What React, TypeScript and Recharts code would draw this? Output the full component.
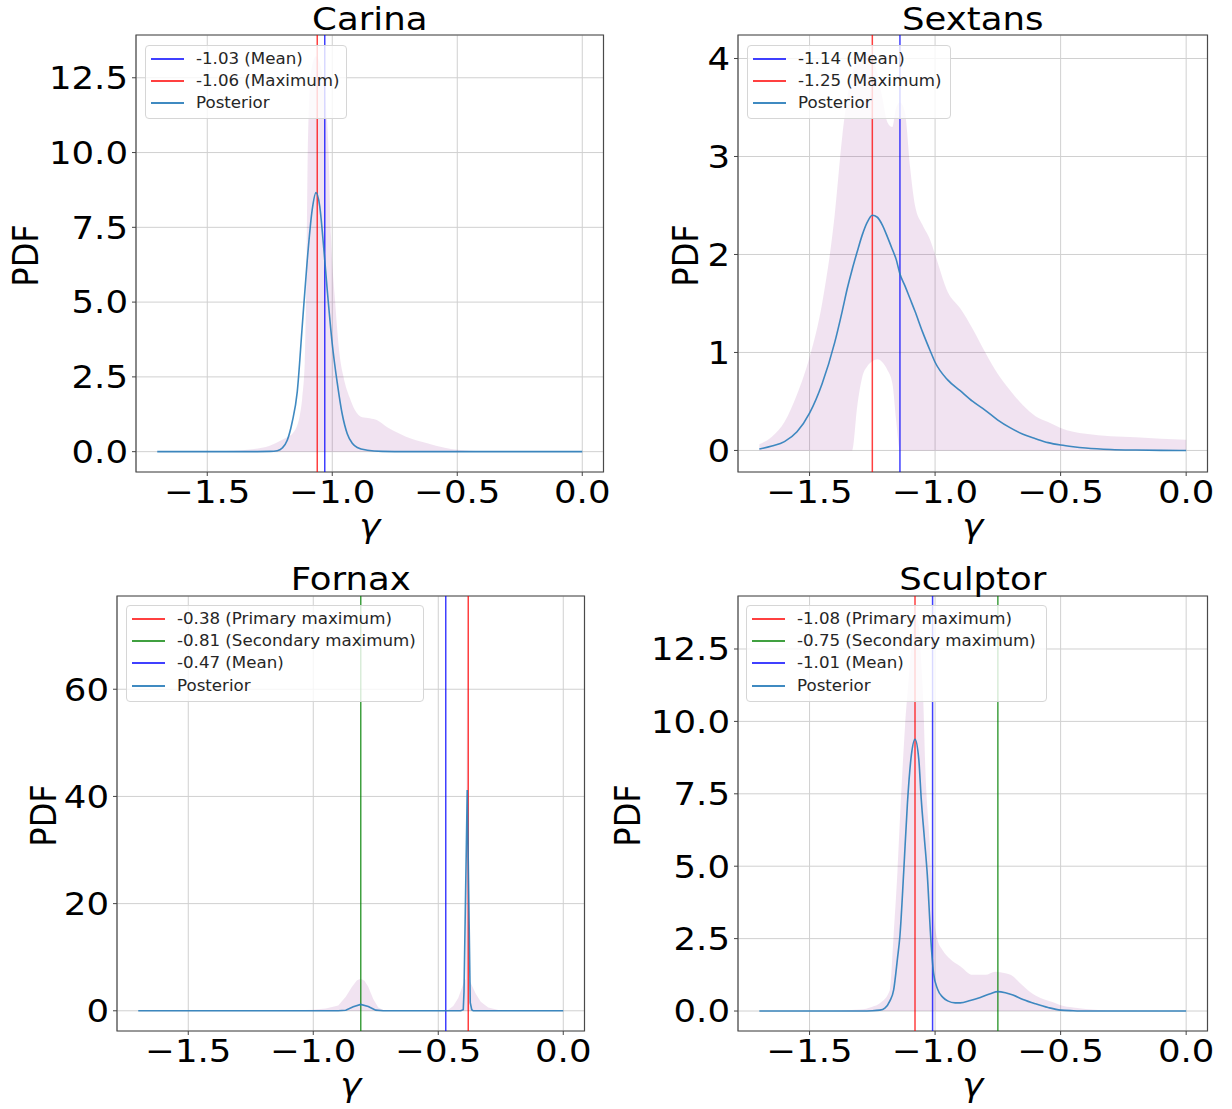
import React from 'react';
import {
  ComposedChart,
  Line,
  Area,
  XAxis,
  YAxis,
  CartesianGrid,
  ReferenceLine,
  ReferenceArea,
} from 'recharts';

const FONT = "'DejaVu Sans', 'Liberation Sans', sans-serif";
const SX = 1.11; // horizontal stretch of the reference figure
const X_DOMAIN = [-1.785, 0.085];
const X_TICKS = [-1.5, -1.0, -0.5, 0.0];

const BLUE = '#0000ff';
const RED = '#ff0000';
const GREEN = '#008000';
const POST = '#2a7dba';

// ---------------- Carina ----------------
const carinaPostX = [-1.7, -1.4, -1.3, -1.25, -1.22, -1.2, -1.18, -1.16, -1.14, -1.12, -1.1, -1.08, -1.065, -1.05, -1.035, -1.02, -1.0, -0.98, -0.96, -0.94, -0.92, -0.9, -0.86, -0.8, -0.7, -0.4, 0.0];
const carinaPostY = [0, 0, 0.002, 0.008, 0.03, 0.12, 0.38, 1.0, 2.0, 4.2, 6.4, 8.1, 8.66, 8.2, 6.9, 5.4, 3.6, 2.3, 1.25, 0.6, 0.28, 0.14, 0.05, 0.01, 0, 0, 0];
const carinaBandX = [-1.7, -1.5, -1.4, -1.32, -1.25, -1.2, -1.155, -1.13, -1.12, -1.11, -1.103, -1.097, -1.085, -1.065, -1.05, -1.03, -1.015, -1.005, -0.99, -0.97, -0.955, -0.93, -0.91, -0.88, -0.85, -0.82, -0.78, -0.73, -0.68, -0.62, -0.55, -0.5, -0.4, 0.0];
const carinaBandLo = carinaBandX.map(() => 0);
const carinaBandHi = [0, 0.01, 0.03, 0.08, 0.2, 0.4, 0.65, 1.2, 1.8, 3.0, 6.0, 10.5, 12.7, 13.22, 13.0, 12.0, 10.1, 7.2, 5.2, 3.2, 2.5, 1.8, 1.4, 1.15, 1.12, 1.05, 0.82, 0.6, 0.42, 0.28, 0.13, 0.06, 0.01, 0];
const carinaYTicks = [0, 2.5, 5, 7.5, 10, 12.5];
const carinaLegend = [
  { label: '-1.03 (Mean)', value: -1.03, color: BLUE },
  { label: '-1.06 (Maximum)', value: -1.06, color: RED },
];

// ---------------- Sextans ----------------
const sextansX = [-1.7, -1.65, -1.6, -1.55, -1.5, -1.45, -1.4, -1.37, -1.35, -1.33, -1.31, -1.29, -1.27, -1.25, -1.23, -1.21, -1.19, -1.17, -1.155, -1.14, -1.12, -1.1, -1.08, -1.05, -1.02, -1.0, -0.95, -0.9, -0.85, -0.8, -0.75, -0.7, -0.65, -0.6, -0.55, -0.5, -0.45, -0.4, -0.3, -0.2, -0.1, 0.0];
const sextansPostY = [0.014, 0.045, 0.09, 0.19, 0.38, 0.68, 1.1, 1.42, 1.65, 1.85, 2.03, 2.2, 2.33, 2.4, 2.38, 2.3, 2.18, 2.05, 1.95, 1.8, 1.68, 1.55, 1.42, 1.21, 1.02, 0.9, 0.72, 0.61, 0.5, 0.41, 0.31, 0.23, 0.165, 0.12, 0.08, 0.055, 0.038, 0.025, 0.01, 0.004, 0.001, 0];
const sextansBandLo = [0, 0, 0, 0, 0, 0, 0, 0, 0, 0, 0.45, 0.75, 0.86, 0.91, 0.93, 0.9, 0.82, 0.68, 0.3, 0, 0, 0, 0, 0, 0, 0, 0, 0, 0, 0, 0, 0, 0, 0, 0, 0, 0, 0, 0, 0, 0, 0];
const sextansBandHi = [0.064, 0.14, 0.29, 0.57, 0.95, 1.5, 2.4, 3.2, 3.6, 3.85, 3.98, 4.04, 4.05, 4.0, 3.85, 3.6, 3.35, 3.3, 3.5, 3.55, 3.45, 2.9, 2.5, 2.3, 2.15, 2.0, 1.62, 1.45, 1.24, 1.0, 0.78, 0.61, 0.46, 0.35, 0.29, 0.23, 0.19, 0.17, 0.146, 0.135, 0.12, 0.11];
const sextansYTicks = [0, 1, 2, 3, 4];
const sextansLegend = [
  { label: '-1.14 (Mean)', value: -1.14, color: BLUE },
  { label: '-1.25 (Maximum)', value: -1.25, color: RED },
];

// ---------------- Fornax ----------------
const fornaxPostX = [-1.7, -1.0, -0.9, -0.87, -0.84, -0.81, -0.78, -0.75, -0.72, -0.5, -0.41, -0.4, -0.397, -0.384, -0.372, -0.366, -0.36, 0.0];
const fornaxPostY = [0, 0, 0, 0.1, 0.75, 1.2, 0.8, 0.12, 0, 0, 0, 0.2, 3.5, 41.2, 1.5, 0.2, 0, 0];
const fornaxBandX = [-1.7, -1.25, -1.1, -1.0, -0.95, -0.9, -0.87, -0.845, -0.825, -0.81, -0.795, -0.78, -0.76, -0.74, -0.72, -0.7, -0.48, -0.46, -0.44, -0.42, -0.4, -0.39, -0.384, -0.378, -0.37, -0.35, -0.33, -0.3, -0.26, -0.2, 0.0];
const fornaxBandLo = fornaxBandX.map(() => 0);
const fornaxBandHi = [0, 0.01, 0.05, 0.2, 0.45, 1.0, 2.6, 4.5, 5.7, 6.0, 5.6, 4.5, 2.2, 0.6, 0.15, 0, 0, 0.2, 0.9, 2.4, 5.0, 6.0, 73.8, 6.0, 5.2, 3.2, 1.7, 0.6, 0.15, 0, 0];
const fornaxYTicks = [0, 20, 40, 60];
const fornaxLegend = [
  { label: '-0.38 (Primary maximum)', value: -0.38, color: RED },
  { label: '-0.81 (Secondary maximum)', value: -0.81, color: GREEN },
  { label: '-0.47 (Mean)', value: -0.47, color: BLUE },
];

// ---------------- Sculptor ----------------
const sculptorPostX = [-1.7, -1.4, -1.3, -1.25, -1.22, -1.2, -1.18, -1.165, -1.15, -1.14, -1.125, -1.11, -1.095, -1.08, -1.065, -1.055, -1.043, -1.031, -1.016, -1.006, -0.99, -0.97, -0.95, -0.92, -0.9, -0.86, -0.82, -0.78, -0.75, -0.72, -0.69, -0.65, -0.6, -0.55, -0.5, -0.45, -0.4, 0.0];
const sculptorPostY = [0, 0, 0.003, 0.01, 0.03, 0.1, 0.35, 0.73, 1.8, 2.6, 4.8, 7.2, 8.8, 9.38, 8.7, 7.3, 6.0, 4.7, 2.35, 1.3, 0.75, 0.48, 0.35, 0.28, 0.28, 0.36, 0.47, 0.6, 0.67, 0.63, 0.55, 0.4, 0.25, 0.12, 0.03, 0.01, 0, 0];
const sculptorBandX = [-1.7, -1.4, -1.3, -1.25, -1.22, -1.18, -1.166, -1.15, -1.135, -1.12, -1.105, -1.09, -1.08, -1.065, -1.055, -1.047, -1.039, -1.023, -1.008, -0.99, -0.97, -0.94, -0.9, -0.85, -0.8, -0.76, -0.72, -0.69, -0.66, -0.62, -0.58, -0.53, -0.5, -0.45, -0.4, -0.3, -0.2, 0.0];
const sculptorBandLo = sculptorBandX.map(() => 0);
const sculptorBandHi = [0, 0.01, 0.05, 0.15, 0.27, 0.73, 2.5, 4.8, 7.5, 9.8, 11.5, 13.0, 13.67, 13.3, 12.0, 10.7, 8.4, 6.0, 3.55, 2.45, 2.1, 1.8, 1.55, 1.25, 1.25, 1.36, 1.3, 1.2, 0.95, 0.65, 0.45, 0.3, 0.2, 0.12, 0.07, 0.02, 0.01, 0];
const sculptorYTicks = [0, 2.5, 5, 7.5, 10, 12.5];
const sculptorLegend = [
  { label: '-1.08 (Primary maximum)', value: -1.08, color: RED },
  { label: '-0.75 (Secondary maximum)', value: -0.75, color: GREEN },
  { label: '-1.01 (Mean)', value: -1.01, color: BLUE },
];

const ML = 130;
const MT = 40;
const MR = 20;
const MB = 100;

const panels = [
  {
    title: 'Carina', plotLeft: 136.25, plotTop: 35, w: 467.5, h: 437, yDomain: [-0.68, 13.93], yTicks: carinaYTicks, yDec: 1,
    postX: carinaPostX, postY: carinaPostY, bandX: carinaBandX, bandLo: carinaBandLo, bandHi: carinaBandHi,
    markers: carinaLegend, curve: 'monotone', pdfDist: 111, titleAbs: 30,
    legend: { x: 145, y: 45, w: 202, h: 74 },
  },
  {
    title: 'Sextans', plotLeft: 737.5, plotTop: 35, w: 469.5, h: 437, yDomain: [-0.22, 4.24], yTicks: sextansYTicks, yDec: 0,
    postX: sextansX, postY: sextansPostY, bandX: sextansX, bandLo: sextansBandLo, bandHi: sextansBandHi,
    markers: sextansLegend, curve: 'monotone', pdfDist: 52.5, titleAbs: 30,
    legend: { x: 747, y: 45, w: 204, h: 74 },
  },
  {
    title: 'Fornax', plotLeft: 117, plotTop: 596, w: 467.5, h: 435, yDomain: [-3.77, 77.4], yTicks: fornaxYTicks, yDec: 0,
    postX: fornaxPostX, postY: fornaxPostY, bandX: fornaxBandX, bandLo: fornaxBandLo, bandHi: fornaxBandHi,
    markers: fornaxLegend, curve: 'linear', pdfDist: 74.4, titleAbs: 590,
    legend: { x: 126, y: 605, w: 298, h: 97 },
  },
  {
    title: 'Sculptor', plotLeft: 737.5, plotTop: 596, w: 469.5, h: 435, yDomain: [-0.69, 14.33], yTicks: sculptorYTicks, yDec: 1,
    postX: sculptorPostX, postY: sculptorPostY, bandX: sculptorBandX, bandLo: sculptorBandLo, bandHi: sculptorBandHi,
    markers: sculptorLegend, curve: 'monotone', pdfDist: 111, titleAbs: 590,
    legend: { x: 746, y: 605, w: 301, h: 97 },
  },
];

const fmtX = (v: number) => (v < 0 ? '\u2212' : '') + Math.abs(v).toFixed(1);
const fmtY = (v: number, dec: number) => (v < 0 ? '\u2212' : '') + Math.abs(v).toFixed(dec);

const XTick = (props: any) => {
  const { x, y, payload } = props;
  return (
    <text transform={`translate(${x},${y}) scale(${SX},1)`} textAnchor="middle" dy="0.71em" fontSize={32} fontFamily={FONT} fill="#000">
      {fmtX(payload.value)}
    </text>
  );
};

const makeYTick = (dec: number) => (props: any) => {
  const { x, y, payload } = props;
  return (
    <text transform={`translate(${x},${y}) scale(${SX},1)`} textAnchor="end" dy="0.355em" fontSize={32} fontFamily={FONT} fill="#000">
      {fmtY(payload.value, dec)}
    </text>
  );
};

function LegendBox({ box, items }: any) {
  return (
    <div
      style={{
        position: 'absolute', left: box.x, top: box.y, width: box.w, height: box.h, boxSizing: 'border-box',
        border: '1px solid #d6d6d6', borderRadius: 4, background: 'rgba(255,255,255,0.8)',
      }}
    >
      {items.map((it: any, i: number) => {
        const cy = Math.round(12.5 + i * 22.4);
        return (
          <React.Fragment key={i}>
            <div style={{ position: 'absolute', left: 5, top: cy - 1, width: 33, height: 2, background: it.color, opacity: it.opacity }} />
            <div
              style={{
                position: 'absolute', left: 50, top: cy - 10, height: 20, lineHeight: '20px', fontSize: 15, fontFamily: FONT,
                color: '#262626', whiteSpace: 'nowrap', transform: `scaleX(${SX})`, transformOrigin: 'left center',
              }}
            >
              {it.label}
            </div>
          </React.Fragment>
        );
      })}
    </div>
  );
}

function Panel({ cfg }: any) {
  const postData = cfg.postX.map((x: number, i: number) => ({ x, y: cfg.postY[i] }));
  const bandData = cfg.bandX.map((x: number, i: number) => ({ x, band: [cfg.bandLo[i], cfg.bandHi[i]] }));
  const chartTop = cfg.plotTop - MT;
  const titleY = cfg.titleAbs - chartTop;
  const cx = ML + cfg.w / 2;
  const xLabel = () => (
    <g>
      <text transform={`translate(${cx},${MT + cfg.h + 64.5}) scale(${SX},1)`} textAnchor="middle" fontSize={32} fontStyle="italic" fontFamily={FONT} fill="#000">
        γ
      </text>
      <text transform={`translate(${cx},${titleY}) scale(${SX},1)`} textAnchor="middle" fontSize={32} fontFamily={FONT} fill="#000">
        {cfg.title}
      </text>
    </g>
  );
  const yLabel = () => (
    <text transform={`translate(${ML - cfg.pdfDist},${MT + cfg.h / 2 + 2}) scale(${SX},1) rotate(-90)`} textAnchor="middle" dy="0.3645em" fontSize={32} fontFamily={FONT} fill="#000">
      PDF
    </text>
  );
  return (
    <div style={{ position: 'absolute', left: cfg.plotLeft - ML, top: chartTop }}>
      <ComposedChart width={ML + cfg.w + MR} height={MT + cfg.h + MB} margin={{ top: MT, right: MR, bottom: 0, left: 0 }}>
        <CartesianGrid stroke="#d0d0d0" strokeWidth={1} />
        <XAxis
          type="number" dataKey="x" domain={X_DOMAIN} ticks={X_TICKS} allowDataOverflow interval={0} height={MB}
          axisLine={false} tickSize={4} tickMargin={4} tickLine={{ stroke: '#444' }} tick={XTick} label={xLabel}
        />
        <YAxis
          type="number" domain={cfg.yDomain} ticks={cfg.yTicks} allowDataOverflow interval={0} width={ML}
          axisLine={false} tickSize={4} tickMargin={4} tickLine={{ stroke: '#444' }} tick={makeYTick(cfg.yDec)} label={yLabel}
        />
        <Area
          data={bandData} dataKey="band" type={cfg.curve} stroke="none" fill="#800080" fillOpacity={0.11}
          isAnimationActive={false} dot={false} activeDot={false}
        />
        {cfg.markers.map((m: any, i: number) => (
          <ReferenceLine key={i} x={m.value} stroke={m.color} strokeOpacity={0.75} strokeWidth={1.5} />
        ))}
        <Line
          data={postData} dataKey="y" type={cfg.curve} stroke={POST} strokeOpacity={0.9} strokeWidth={1.6} dot={false} activeDot={false}
          isAnimationActive={false}
        />
        <ReferenceArea
          x1={X_DOMAIN[0]} x2={X_DOMAIN[1]} y1={cfg.yDomain[0]} y2={cfg.yDomain[1]} fill="none" fillOpacity={0}
          stroke="#4a4a4a" strokeWidth={1.2} ifOverflow="visible"
        />
      </ComposedChart>
    </div>
  );
}

export default function App() {
  return (
    <div style={{ position: 'absolute', left: 0, top: 0, width: 1232, height: 1109, background: '#fff', overflow: 'hidden' }}>
      {panels.map((p, i) => (
        <Panel key={i} cfg={p} />
      ))}
      {panels.map((p, i) => (
        <LegendBox
          key={'l' + i}
          box={p.legend}
          items={[
            ...p.markers.map((m: any) => ({ label: m.label, color: m.color, opacity: 0.75 })),
            { label: 'Posterior', color: POST, opacity: 0.9 },
          ]}
        />
      ))}
    </div>
  );
}
